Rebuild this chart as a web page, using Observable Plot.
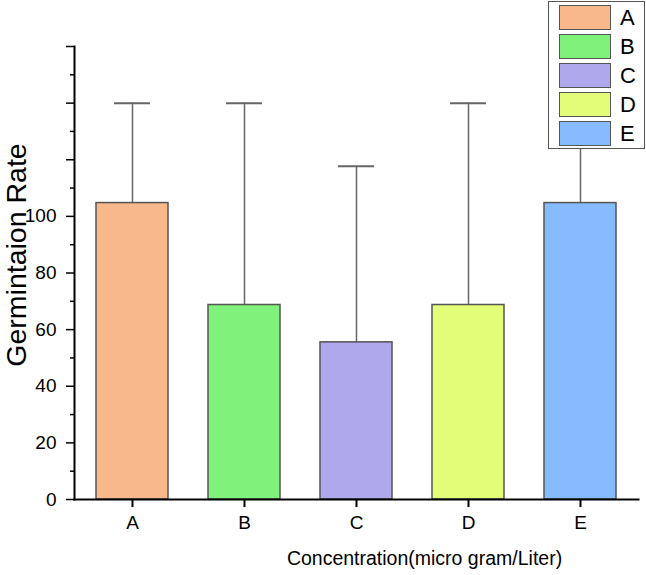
<!DOCTYPE html>
<html><head><meta charset="utf-8">
<script src="https://cdn.jsdelivr.net/npm/d3@7"></script>
<script src="https://cdn.jsdelivr.net/npm/@observablehq/plot@0.6"></script>
<style>
body{margin:0;background:#fff;font-family:"Liberation Sans",Arial,sans-serif}
#wrap{position:relative;width:646px;height:575px}
#legend{position:absolute;left:548px;top:1px;width:97px;height:148px;border:1.5px solid #555;background:#fff;box-sizing:border-box}
.row{position:absolute;left:10px;height:25px;display:flex;align-items:center}
.sw{width:52px;height:25px;border:1.5px solid #555;box-sizing:border-box}
.lb{margin-left:9px;font-size:22px;color:#000;line-height:25px}
</style>
</head><body>
<div id="wrap"><div id="chart"></div><div id="legend"></div></div>
<script>
const categories = ["A", "B", "C", "D", "E"];
const means = [104.7, 68.7, 55.5, 68.7, 104.7];
const errors = [35.3, 71.3, 62.2, 71.3, 35.3];
const colors = ["#F8B88B", "#80F27C", "#B0A8EC", "#E3FD79", "#86BCFF"];
const yMajorTicks = [0, 20, 40, 60, 80, 100, 120, 140, 160];
const yTickLabels = ["0", "20", "40", "60", "80", "100", "", "", ""];
const yMinorTicks = [10, 30, 50, 70, 90, 110, 130, 150];
const yTitle = "Germintaion Rate";
const xTitle = "Concentration(micro gram/Liter)";

const data = categories.map((c, i) => ({cat: c, mean: means[i], top: means[i] + errors[i]}));

const chart = Plot.plot({
  width: 646, height: 575,
  marginLeft: 74, marginRight: 8, marginTop: 46, marginBottom: 76,
  style: {fontFamily: "'Liberation Sans', Arial, sans-serif", fontSize: "19px", background: "#fff"},
  x: {domain: categories, paddingInner: 0.357, paddingOuter: 0.178, label: null},
  y: {domain: [0, 160], label: null},
  color: {domain: categories, range: colors},
  marks: [
    Plot.ruleX(data, {x: "cat", y1: "mean", y2: "top", stroke: "#666", strokeWidth: 1.5}),
    Plot.tickY(data, {x: "cat", y: "top", stroke: "#666", strokeWidth: 2, insetLeft: 18, insetRight: 18}),
    Plot.barY(data, {x: "cat", y: "mean", fill: "cat", stroke: "#555", strokeWidth: 1.5}),
    Plot.axisY({ticks: yMajorTicks, tickSize: 8, tickPadding: 10, strokeWidth: 1.5, stroke: "#000", tickFormat: (d) => yTickLabels[yMajorTicks.indexOf(d)], fontSize: 19, fill: "#000"}),
    Plot.axisY({ticks: yMinorTicks, tickSize: 4, text: null, strokeWidth: 1.5, stroke: "#000"}),
    Plot.axisX({tickSize: 8, tickPadding: 8, strokeWidth: 2, stroke: "#000", fontSize: 19, fill: "#000"}),
    Plot.frame({anchor: "left", stroke: "#000", strokeWidth: 2}),
    Plot.frame({anchor: "bottom", stroke: "#000", strokeWidth: 2}),
    Plot.text([yTitle], {frameAnchor: "left", textAnchor: "middle", rotate: -90, dx: -58, dy: -18, fontSize: 28.5, fill: "#000"}),
    Plot.text([xTitle], {frameAnchor: "bottom", dx: 68, dy: 65, fontSize: 19.5, fill: "#000"})
  ]
});
document.getElementById("chart").appendChild(chart);

const legend = document.getElementById("legend");
categories.forEach((c, i) => {
  const row = document.createElement("div");
  row.className = "row";
  row.style.top = (3 + i * 29) + "px";
  const sw = document.createElement("div");
  sw.className = "sw";
  sw.style.background = colors[i];
  const lb = document.createElement("span");
  lb.className = "lb";
  lb.textContent = c;
  row.appendChild(sw); row.appendChild(lb);
  legend.appendChild(row);
});
</script>
</body></html>
